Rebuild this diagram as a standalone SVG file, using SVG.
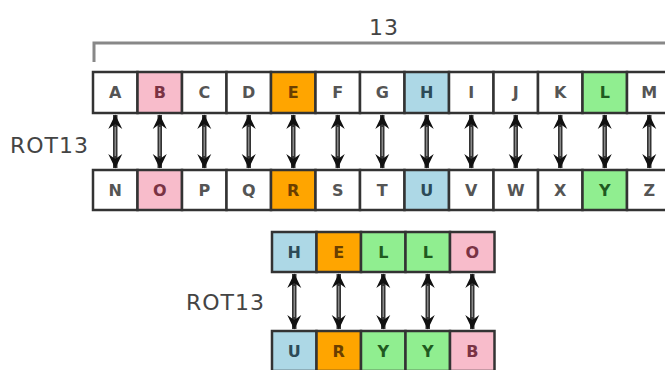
<svg xmlns="http://www.w3.org/2000/svg" width="665" height="370" viewBox="0 0 665 370">
<style>
.c rect{stroke:#333;stroke-width:2.5}
.c text{font-family:"DejaVu Sans",Verdana,sans-serif;font-size:16px;font-weight:bold;text-anchor:middle;dominant-baseline:central;fill:#555}
.w rect{fill:#fff}
.p rect{fill:#f8bccb}.p text{fill:#7a3344}
.o rect{fill:#ffa500}.o text{fill:#6a3f00}
.b rect{fill:#add8e6}.b text{fill:#2c4b58}
.g rect{fill:#90ee90}.g text{fill:#1f5a1f}
.lbl{font-family:"DejaVu Sans",Verdana,sans-serif;font-size:22px;fill:#444;dominant-baseline:central;letter-spacing:1px}
.ar{stroke:#333;stroke-width:4.5;fill:none;marker-start:url(#h);marker-end:url(#h)}
.in{stroke:#999;stroke-width:1.2;fill:none}
</style>
<defs>
<marker id="h" markerUnits="userSpaceOnUse" viewBox="0 0 15 15" markerWidth="15" markerHeight="15" refX="14" refY="7.5" orient="auto-start-reverse">
<path d="M0,0.5 L14.5,7.5 L0,14.5 L5,7.5 Z" fill="#111"/>
</marker>
</defs>
<rect width="665" height="370" fill="#fff"/>
<g id="bracket">
<path d="M94,62 V43 H665" fill="none" stroke="#888" stroke-width="3"/>
<text x="384" y="27" class="lbl" text-anchor="middle" font-size="19" letter-spacing="0">13</text>
</g>
<text id="rot13-top" x="10" y="145" class="lbl">ROT13</text>
<text id="rot13-bottom" x="186" y="302" class="lbl">ROT13</text>
<g id="connectors">
<path class="ar" d="M115.25,115 V168"/>
<path class="ar" d="M159.75,115 V168"/>
<path class="ar" d="M204.25,115 V168"/>
<path class="ar" d="M248.75,115 V168"/>
<path class="ar" d="M293.25,115 V168"/>
<path class="ar" d="M337.75,115 V168"/>
<path class="ar" d="M382.25,115 V168"/>
<path class="ar" d="M426.75,115 V168"/>
<path class="ar" d="M471.25,115 V168"/>
<path class="ar" d="M515.75,115 V168"/>
<path class="ar" d="M560.25,115 V168"/>
<path class="ar" d="M604.75,115 V168"/>
<path class="ar" d="M649.25,115 V168"/>
<path class="ar" d="M294.25,274 V329"/>
<path class="ar" d="M338.75,274 V329"/>
<path class="ar" d="M383.25,274 V329"/>
<path class="ar" d="M427.75,274 V329"/>
<path class="ar" d="M472.25,274 V329"/>
<path class="in" d="M115.25,127 V156 M159.75,127 V156 M204.25,127 V156 M248.75,127 V156 M293.25,127 V156 M337.75,127 V156 M382.25,127 V156 M426.75,127 V156 M471.25,127 V156 M515.75,127 V156 M560.25,127 V156 M604.75,127 V156 M649.25,127 V156 M294.25,286 V317 M338.75,286 V317 M383.25,286 V317 M427.75,286 V317 M472.25,286 V317"/>
</g>
<g id="top-row">
<g id="t-A" class="c w"><rect x="93" y="72" width="44.5" height="41"/><text x="115.25" y="92.5">A</text></g>
<g id="t-B" class="c p"><rect x="137.5" y="72" width="44.5" height="41"/><text x="159.75" y="92.5">B</text></g>
<g id="t-C" class="c w"><rect x="182" y="72" width="44.5" height="41"/><text x="204.25" y="92.5">C</text></g>
<g id="t-D" class="c w"><rect x="226.5" y="72" width="44.5" height="41"/><text x="248.75" y="92.5">D</text></g>
<g id="t-E" class="c o"><rect x="271" y="72" width="44.5" height="41"/><text x="293.25" y="92.5">E</text></g>
<g id="t-F" class="c w"><rect x="315.5" y="72" width="44.5" height="41"/><text x="337.75" y="92.5">F</text></g>
<g id="t-G" class="c w"><rect x="360" y="72" width="44.5" height="41"/><text x="382.25" y="92.5">G</text></g>
<g id="t-H" class="c b"><rect x="404.5" y="72" width="44.5" height="41"/><text x="426.75" y="92.5">H</text></g>
<g id="t-I" class="c w"><rect x="449" y="72" width="44.5" height="41"/><text x="471.25" y="92.5">I</text></g>
<g id="t-J" class="c w"><rect x="493.5" y="72" width="44.5" height="41"/><text x="515.75" y="92.5">J</text></g>
<g id="t-K" class="c w"><rect x="538" y="72" width="44.5" height="41"/><text x="560.25" y="92.5">K</text></g>
<g id="t-L" class="c g"><rect x="582.5" y="72" width="44.5" height="41"/><text x="604.75" y="92.5">L</text></g>
<g id="t-M" class="c w"><rect x="627" y="72" width="44.5" height="41"/><text x="649.25" y="92.5">M</text></g>
</g>
<g id="bottom-row">
<g id="b-N" class="c w"><rect x="93" y="170" width="44.5" height="40"/><text x="115.25" y="190">N</text></g>
<g id="b-O" class="c p"><rect x="137.5" y="170" width="44.5" height="40"/><text x="159.75" y="190">O</text></g>
<g id="b-P" class="c w"><rect x="182" y="170" width="44.5" height="40"/><text x="204.25" y="190">P</text></g>
<g id="b-Q" class="c w"><rect x="226.5" y="170" width="44.5" height="40"/><text x="248.75" y="190">Q</text></g>
<g id="b-R" class="c o"><rect x="271" y="170" width="44.5" height="40"/><text x="293.25" y="190">R</text></g>
<g id="b-S" class="c w"><rect x="315.5" y="170" width="44.5" height="40"/><text x="337.75" y="190">S</text></g>
<g id="b-T" class="c w"><rect x="360" y="170" width="44.5" height="40"/><text x="382.25" y="190">T</text></g>
<g id="b-U" class="c b"><rect x="404.5" y="170" width="44.5" height="40"/><text x="426.75" y="190">U</text></g>
<g id="b-V" class="c w"><rect x="449" y="170" width="44.5" height="40"/><text x="471.25" y="190">V</text></g>
<g id="b-W" class="c w"><rect x="493.5" y="170" width="44.5" height="40"/><text x="515.75" y="190">W</text></g>
<g id="b-X" class="c w"><rect x="538" y="170" width="44.5" height="40"/><text x="560.25" y="190">X</text></g>
<g id="b-Y" class="c g"><rect x="582.5" y="170" width="44.5" height="40"/><text x="604.75" y="190">Y</text></g>
<g id="b-Z" class="c w"><rect x="627" y="170" width="44.5" height="40"/><text x="649.25" y="190">Z</text></g>
</g>
<g id="hello">
<g id="h-H" class="c b"><rect x="272" y="232" width="44.5" height="40"/><text x="294.25" y="252">H</text></g>
<g id="h-E" class="c o"><rect x="316.5" y="232" width="44.5" height="40"/><text x="338.75" y="252">E</text></g>
<g id="h-L1" class="c g"><rect x="361" y="232" width="44.5" height="40"/><text x="383.25" y="252">L</text></g>
<g id="h-L2" class="c g"><rect x="405.5" y="232" width="44.5" height="40"/><text x="427.75" y="252">L</text></g>
<g id="h-O" class="c p"><rect x="450" y="232" width="44.5" height="40"/><text x="472.25" y="252">O</text></g>
</g>
<g id="uryyb">
<g id="u-U" class="c b"><rect x="272" y="331" width="44.5" height="40"/><text x="294.25" y="351">U</text></g>
<g id="u-R" class="c o"><rect x="316.5" y="331" width="44.5" height="40"/><text x="338.75" y="351">R</text></g>
<g id="u-Y1" class="c g"><rect x="361" y="331" width="44.5" height="40"/><text x="383.25" y="351">Y</text></g>
<g id="u-Y2" class="c g"><rect x="405.5" y="331" width="44.5" height="40"/><text x="427.75" y="351">Y</text></g>
<g id="u-B" class="c p"><rect x="450" y="331" width="44.5" height="40"/><text x="472.25" y="351">B</text></g>
</g>
</svg>
